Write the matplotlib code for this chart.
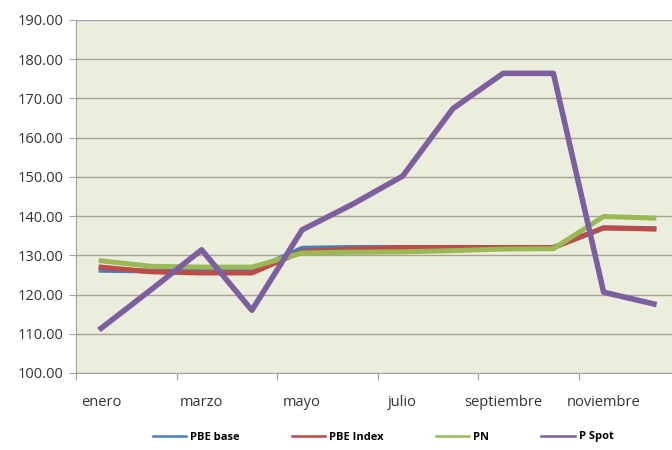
import matplotlib
matplotlib.use("Agg")
import matplotlib.pyplot as plt
from matplotlib.ticker import FixedLocator, NullFormatter

months = ["enero", "febrero", "marzo", "abril", "mayo", "junio", "julio",
          "agosto", "septiembre", "octubre", "noviembre", "diciembre"]
pbe_base = [126.2, 126.0, 126.0, 126.0, 131.8, 132.0, 132.0, 132.0, 132.0, 132.0, 137.0, 136.8]
pbe_index = [127.0, 125.8, 125.5, 125.5, 131.0, 131.6, 132.0, 132.0, 132.0, 132.0, 137.0, 136.7]
pn = [128.6, 127.2, 127.0, 127.0, 130.6, 130.8, 130.9, 131.2, 131.6, 131.7, 139.9, 139.5]
p_spot = [111.4, 121.3, 131.4, 116.0, 136.5, 143.0, 150.2, 167.4, 176.4, 176.4, 120.6, 117.6]

plt.rcParams['font.family'] = ['Open Sans', 'DejaVu Sans']

fig = plt.figure(figsize=(6.72, 4.5), dpi=100)
ax = fig.add_axes([76/672, 1-373/450, (679-76)/672, (373-20)/450])
ax.set_facecolor("#EBEEDD")

x = list(range(len(months)))
ax.plot(x, pbe_base, color="#4A7EBB", lw=3.6, label="PBE base", solid_joinstyle="round")
ax.plot(x, pbe_index, color="#BE4B48", lw=3.6, label="PBE Index", solid_joinstyle="round")
ax.plot(x, pn, color="#98B954", lw=3.6, label="PN", solid_joinstyle="round")
ax.plot(x, p_spot, color="#7D5FA0", lw=4.0, label="P Spot", solid_joinstyle="round")

ax.set_ylim(100, 190)
ax.set_xlim(-0.5, 11.5)
ax.set_yticks(range(100, 191, 10))
ax.set_yticklabels([f"{v:.2f}" for v in range(100, 191, 10)], fontsize=10.5, color="#333333")
ax.yaxis.grid(True, color="#A8A095", lw=1.0)
ax.set_axisbelow(True)

ax.xaxis.set_major_locator(FixedLocator([i - 0.5 for i in range(0, 12, 2)]))
ax.xaxis.set_major_formatter(NullFormatter())
ax.set_xticks(list(range(0, 12, 2)), minor=True)
ax.set_xticklabels([months[i] for i in range(0, 12, 2)], minor=True, fontsize=10.5, color="#333333")
ax.tick_params(axis="x", which="minor", length=0, pad=16)
ax.tick_params(axis="x", which="major", length=5, color="#A8A095")
ax.tick_params(axis="y", length=5, color="#A8A095", pad=4)

for s in ["top", "right"]:
    ax.spines[s].set_visible(False)
ax.spines["left"].set_color("#A8A095")
ax.spines["bottom"].set_color("#A8A095")

leg = fig.legend(loc="center", bbox_to_anchor=(0.57, 1-437/450), ncol=4, frameon=False,
                 prop={"weight": "bold", "size": 8}, handlelength=3.0, columnspacing=4.7,
                 handletextpad=0.35)
for h in leg.get_lines():
    h.set_linewidth(1.8)

fig.savefig("out.png", dpi=100)
